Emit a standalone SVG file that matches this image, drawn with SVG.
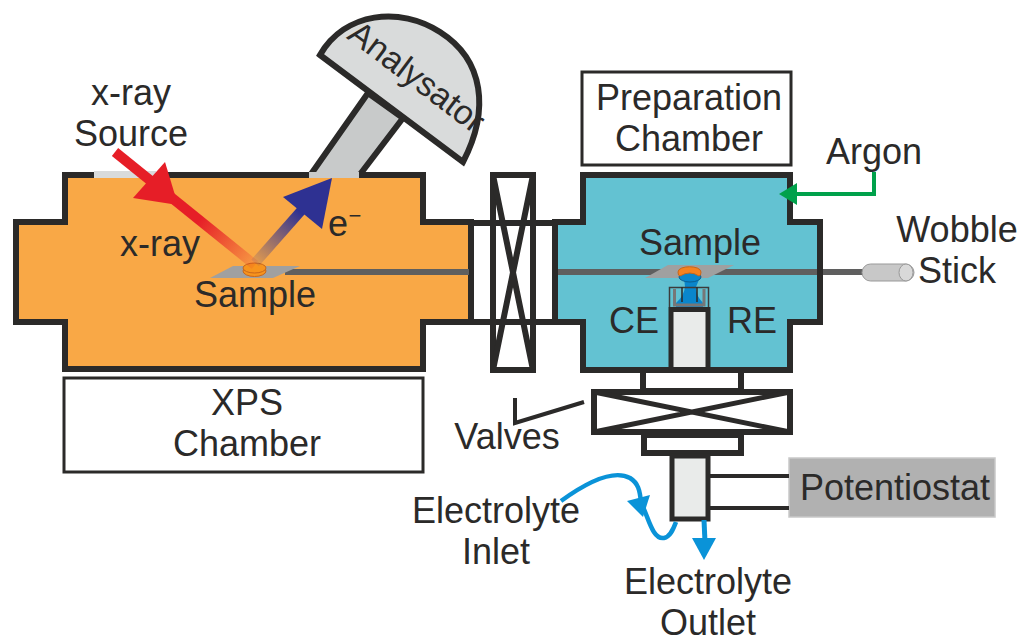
<svg xmlns="http://www.w3.org/2000/svg" width="1019" height="635" viewBox="0 0 1019 635">
<style>
text{font-family:"Liberation Sans",Arial,sans-serif;font-size:36px;fill:#2b2a29;text-anchor:middle}
.w{stroke:#2b2a29;stroke-width:6;fill:none}
.box{stroke:#2b2a29;stroke-width:3;fill:#fff}
.rod{stroke:#5f5f5f;stroke-width:6;fill:none}
.plate{fill:#a0a0a0}
</style>
<defs>
<linearGradient id="gr" gradientUnits="userSpaceOnUse" x1="255" y1="265" x2="115" y2="152"><stop offset="0" stop-color="#e61e27" stop-opacity="0.1"/><stop offset="0.4" stop-color="#e61e27"/><stop offset="1" stop-color="#e61e27"/></linearGradient>
<linearGradient id="gb" gradientUnits="userSpaceOnUse" x1="255" y1="263" x2="315" y2="195"><stop offset="0" stop-color="#2e3192" stop-opacity="0.1"/><stop offset="0.75" stop-color="#2e3192"/></linearGradient>
</defs>
<g id="analysator">
<path d="M368 93L403 118L358 177H309Z" fill="#c8caca" stroke="#2b2a29" stroke-width="6"/>
<path d="M320 55L463 162C490 110 484 60 440 32C400 6 345 12 320 55Z" fill="#d9dbdb" stroke="#2b2a29" stroke-width="6"/>
<text transform="translate(410 86) rotate(37)" font-size="34" style="font-size:34px">Analysator</text>
</g>
<g id="xps-chamber">
<path d="M65 175H423V222H471V322H423V369H65V322H16V222H65Z" fill="#f9a846" class="w" style="fill:#f9a846"/>
<rect x="94" y="171" width="62" height="7" fill="#d9dbdb"/>
<rect x="309" y="172" width="50" height="6" fill="#c8caca"/>
<path class="rod" d="M285 272H469"/>
<path class="plate" d="M210 278L233 266H300L273 278Z"/>
<ellipse cx="254.500" cy="271" rx="11.500" ry="5.500" fill="#f7941d" stroke="#c8661a"/>
<ellipse cx="254.500" cy="268" rx="11.500" ry="5" fill="#f7941d" stroke="#c8661a"/>
</g>
<g id="gate-valve">
<path d="M471 223H555M471 322H555" class="w"/>
<rect x="474" y="226" width="16" height="93" fill="#fff"/>
<rect x="536" y="226" width="16" height="93" fill="#fff"/>
<rect x="493" y="175" width="40" height="195" fill="#fff" class="w"/>
<path class="w" d="M493 175L533 370M533 175L493 370"/>
</g>
<g id="prep-chamber">
<path d="M583 175H790V222H820V322H790V370H583V322H555V222H583Z" style="fill:#63c2d2" class="w"/>
<path class="rod" d="M558 272H817M823 272H865"/>
<path class="plate" d="M645 278L668 265H734L708 278Z"/>
<path d="M684 277L685 287Q684 296 676 303V307H703V303Q696 296 696 287L700 277Z" fill="#0a86cc"/>
<ellipse cx="690" cy="277" rx="11" ry="5" fill="#0a86cc" stroke="#0b5e90"/>
<path d="M678 272C678 265 701 265 701 272Q701 276 699 276Q690 270 680 276Q678 276 678 272Z" fill="#f58220" stroke="#c8661a"/>
<path d="M669.500 307V287.500H708.500V307" fill="none" stroke="#3c3c3c" stroke-width="1.500"/>
<path d="M674.500 289V305H704V289" fill="none" stroke="#777" stroke-width="3"/>
<path d="M682 287V302M697 287V302" stroke="#2b2a29" stroke-width="1.500"/>
<rect x="671" y="309.500" width="37" height="60" fill="#e9ebea" stroke="#2b2a29" stroke-width="5"/>
</g>
<g id="lower-valve">
<rect x="643" y="370" width="98" height="21" fill="#fff" class="w" style="stroke-width:6;fill:#fff"/>
<rect x="594" y="392" width="196" height="40" class="w" style="fill:#fff"/>
<path class="w" style="stroke-width:5" d="M594 392L790 432M790 392L594 432"/>
<rect x="644" y="435" width="97" height="18" class="w" style="fill:#fff"/>
</g>
<g id="cell-tube">
<rect x="672" y="456" width="36" height="63" fill="#e9ebea" stroke="#2b2a29" stroke-width="5"/>
</g>
<g id="potentiostat">
<rect x="789" y="458" width="206" height="59" fill="#b1b1b1" stroke="#c9c9c9" stroke-width="1.500"/>
<text x="895" y="500">Potentiostat</text>
</g>
<g id="wobble-stick">
<rect x="862" y="264" width="52" height="17" rx="8.500" fill="#c8c8c8" stroke="#999"/>
<ellipse cx="906" cy="272.500" rx="7" ry="8.500" fill="#d9d9d9" stroke="#999"/>
</g>
<g id="connectors">
<path d="M710 476H789M710 508H789" stroke="#2b2a29" stroke-width="4" fill="none"/>
<path d="M584 402L515 423V398" stroke="#2b2a29" stroke-width="4" fill="none"/>
<path d="M115 152L255 265" stroke="url(#gr)" stroke-width="10" fill="none"/>
<path d="M165 162L133 198L178 205Z" fill="#e61e27"/>
<path d="M255 263L315 195" stroke="url(#gb)" stroke-width="10" fill="none"/>
<path d="M332 178L283 197L322 229Z" fill="#2e3192"/>
<path d="M874 172V194H795" stroke="#00a14b" stroke-width="4" fill="none"/>
<path d="M779 194L797 183V205Z" fill="#00a14b"/>
<path d="M561 501C590 480 615 470 630 478C638 483 640 490 641 503C648 515 652 540 664 538C670 537 673 530 676 522" stroke="#0a93d8" stroke-width="4.500" fill="none"/>
<path d="M650 495L627 501L643 517Z" fill="#0a93d8"/>
<path d="M704 520L705 542" stroke="#0a93d8" stroke-width="5" fill="none"/>
<path d="M692 538H716L704 560Z" fill="#0a93d8"/>
</g>
<g id="labels">
<text x="131" y="105">x-ray</text>
<text x="131" y="146">Source</text>
<text x="160" y="256">x-ray</text>
<text x="338" y="236">e</text>
<text x="355" y="223" style="font-size:22px">−</text>
<text x="255" y="307">Sample</text>
<text x="247" y="415" >XPS</text>
<text x="247" y="456">Chamber</text>
<text x="700" y="255">Sample</text>
<text x="634" y="333">CE</text>
<text x="752" y="333">RE</text>
<text x="874" y="164">Argon</text>
<text x="957" y="242">Wobble</text>
<text x="957" y="283">Stick</text>
<text x="507" y="449">Valves</text>
<text x="496" y="523">Electrolyte</text>
<text x="496" y="564">Inlet</text>
<text x="708" y="594">Electrolyte</text>
<text x="708" y="635">Outlet</text>
</g>
<g id="label-boxes">
<rect class="box" x="582" y="72" width="209" height="93" style="fill:none"/>
<text x="689" y="110">Preparation</text>
<text x="689" y="151">Chamber</text>
<rect class="box" x="64" y="378" width="359" height="94" style="fill:none"/>
</g>
</svg>
